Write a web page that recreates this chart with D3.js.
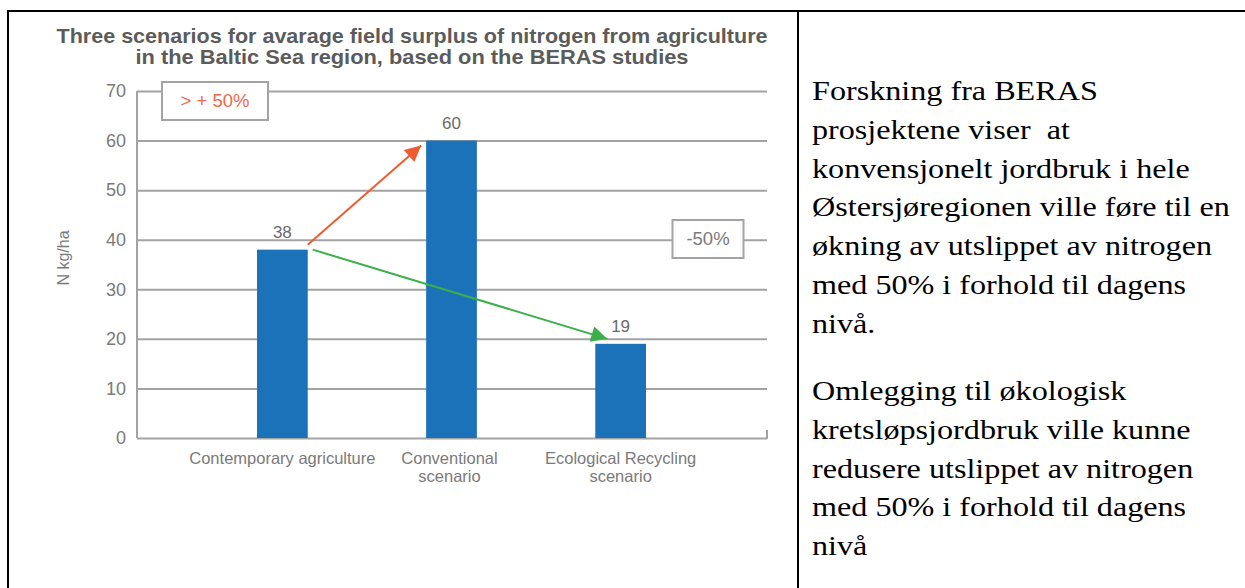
<!DOCTYPE html>
<html>
<head>
<meta charset="utf-8">
<script src="https://cdn.jsdelivr.net/npm/d3@7"></script>
<style>
  html, body { margin: 0; padding: 0; background: #fff; }
  svg { display: block; }
</style>
</head>
<body>
<svg id="chart" width="1245" height="588"></svg>
<script>
// ---- data ----
const categories = ["Contemporary agriculture", "Conventional scenario", "Ecological Recycling scenario"];
const categoryLines = [["Contemporary agriculture"], ["Conventional", "scenario"], ["Ecological Recycling", "scenario"]];
const values = [38, 60, 19];
const yTicks = [0, 10, 20, 30, 40, 50, 60, 70];
const titleLines = [
  "Three scenarios for avarage field surplus of nitrogen from agriculture",
  "in the Baltic Sea region, based on the BERAS studies"
];
const yLabel = "N kg/ha";
// arrows: from category index / value  ->  to category index / value
const arrowFromCat = [0, 0];
const arrowFromVal = [39, 38];
const arrowToCat = [1, 2];
const arrowToVal = [59, 20];
const arrowColors = ["#ee5b2f", "#3bb04a"];
const noteLabels = ["> + 50%", "-50%"];
const paragraph1 = [
  "Forskning fra BERAS",
  "prosjektene viser  at",
  "konvensjonelt jordbruk i hele",
  "Østersjøregionen ville føre til en",
  "økning av utslippet av nitrogen",
  "med 50% i forhold til dagens",
  "nivå."
];
const paragraph2 = [
  "Omlegging til økologisk",
  "kretsløpsjordbruk ville kunne",
  "redusere utslippet av nitrogen",
  "med 50% i forhold til dagens",
  "nivå"
];

// ---- layout ----
const svg = d3.select("#chart");
const plot = { left: 137, right: 767, top: 91, bottom: 438 };
const sans = "Liberation Sans, Arial, sans-serif";

const x = d3.scaleBand().domain(categories).range([257, 646]).paddingInner(0.7).paddingOuter(0);
const y = d3.scaleLinear().domain([0, 70]).range([plot.bottom, plot.top]);

// table borders
svg.append("line").attr("x1", 7).attr("x2", 1245).attr("y1", 11).attr("y2", 11)
  .attr("stroke", "#000").attr("stroke-width", 2);
svg.append("line").attr("x1", 8).attr("x2", 8).attr("y1", 10).attr("y2", 588)
  .attr("stroke", "#000").attr("stroke-width", 2);
svg.append("line").attr("x1", 798).attr("x2", 798).attr("y1", 10).attr("y2", 588)
  .attr("stroke", "#000").attr("stroke-width", 2);

// title
const title = svg.append("g").attr("font-family", sans)
  .attr("font-weight", "bold").attr("font-size", 21).attr("fill", "#5b5b5b");
const titleW = [711, 553];
const titleY = [43, 64];
titleLines.forEach((t, i) => {
  title.append("text").attr("x", 412).attr("y", titleY[i]).attr("text-anchor", "middle")
    .attr("textLength", titleW[i]).attr("lengthAdjust", "spacingAndGlyphs").text(t);
});

// gridlines via axis
const yAxis = d3.axisLeft(y).tickValues(yTicks).tickSize(-(plot.right - plot.left)).tickPadding(11);
const gy = svg.append("g").attr("transform", `translate(${plot.left},0)`).call(yAxis);
gy.select(".domain").remove();
gy.selectAll(".tick line").attr("stroke", "#a3a3a3").attr("stroke-width", 2);
gy.selectAll(".tick text").attr("font-family", sans)
  .attr("font-size", 18).attr("fill", "#7a7a7a");

// left axis line
svg.append("line").attr("x1", plot.left).attr("x2", plot.left).attr("y1", plot.top).attr("y2", plot.bottom)
  .attr("stroke", "#a3a3a3").attr("stroke-width", 2);
// right end tick on baseline
svg.append("line").attr("x1", plot.right).attr("x2", plot.right).attr("y1", plot.bottom - 8).attr("y2", plot.bottom + 1)
  .attr("stroke", "#a3a3a3").attr("stroke-width", 2);

// y label
svg.append("text").attr("transform", "translate(69,258) rotate(-90)")
  .attr("text-anchor", "middle").attr("font-family", sans)
  .attr("font-size", 16).attr("fill", "#7a7a7a").text(yLabel);

// bars
svg.append("g").selectAll("rect").data(values).join("rect")
  .attr("x", (d, i) => x(categories[i]))
  .attr("y", d => y(d))
  .attr("width", x.bandwidth())
  .attr("height", d => y(0) - y(d))
  .attr("fill", "#1c72b9");

// value labels
svg.append("g").selectAll("text").data(values).join("text")
  .attr("x", (d, i) => x(categories[i]) + x.bandwidth() / 2)
  .attr("y", d => y(d) - 12)
  .attr("text-anchor", "middle")
  .attr("font-family", sans)
  .attr("font-size", 17).attr("fill", "#6a6a6a")
  .text(d => d);

// x labels
const xl = svg.append("g").attr("font-family", sans)
  .attr("font-size", 16.5).attr("fill", "#7a7a7a").attr("text-anchor", "middle");
categoryLines.forEach((lines, i) => {
  lines.forEach((l, j) => {
    xl.append("text").attr("x", x(categories[i]) + x.bandwidth() / 2 - (i === 1 ? 2 : 0))
      .attr("y", 464 + j * 18).text(l);
  });
});

// arrow markers
const defs = svg.append("defs");
arrowColors.forEach((c, i) => {
  defs.append("marker").attr("id", "ah" + i).attr("viewBox", "0 0 10 10")
    .attr("refX", 10).attr("refY", 5).attr("markerUnits", "userSpaceOnUse")
    .attr("markerWidth", 18).attr("markerHeight", 16).attr("orient", "auto")
    .append("path").attr("d", "M0,0 L10,5 L0,10 Z").attr("fill", c);
});
arrowColors.forEach((c, i) => {
  const fx = x(categories[arrowFromCat[i]]) + x.bandwidth() + (i === 0 ? 0 : 5);
  const tx = i === 0 ? x(categories[arrowToCat[i]]) - 5 : x(categories[arrowToCat[i]]) + 12;
  svg.append("line")
    .attr("x1", fx).attr("y1", y(arrowFromVal[i]))
    .attr("x2", tx).attr("y2", y(arrowToVal[i]))
    .attr("stroke", c).attr("stroke-width", 2)
    .attr("marker-end", `url(#ah${i})`);
});

// note boxes
const notes = [
  { cx: 215, cy: 101, w: 106, h: 38, color: "#ee6a4a" },
  { cx: 708, cy: 239, w: 71, h: 38, color: "#7a7a7a" }
];
notes.forEach((n, i) => {
  svg.append("rect").attr("x", n.cx - n.w / 2).attr("y", n.cy - n.h / 2)
    .attr("width", n.w).attr("height", n.h).attr("fill", "#fff")
    .attr("stroke", "#a3a3a3").attr("stroke-width", 2);
  svg.append("text").attr("x", n.cx).attr("y", n.cy).attr("dy", "0.35em")
    .attr("text-anchor", "middle").attr("font-family", sans)
    .attr("font-size", 18.5).attr("fill", n.color).attr("xml:space", "preserve").text(noteLabels[i]);
});

// right-hand text (horizontally stretched like the reference)
const sx = 1.17;
const rt = svg.append("g").attr("transform", `scale(${sx},1)`)
  .attr("font-family", "Liberation Serif, 'Times New Roman', serif")
  .attr("font-size", 27.5).attr("fill", "#000");
paragraph1.forEach((l, i) => {
  rt.append("text").attr("x", 812 / sx).attr("y", 100 + i * 38.8).attr("xml:space", "preserve").text(l);
});
paragraph2.forEach((l, i) => {
  rt.append("text").attr("x", 812 / sx).attr("y", 400 + i * 38.8).attr("xml:space", "preserve").text(l);
});
</script>
</body>
</html>
